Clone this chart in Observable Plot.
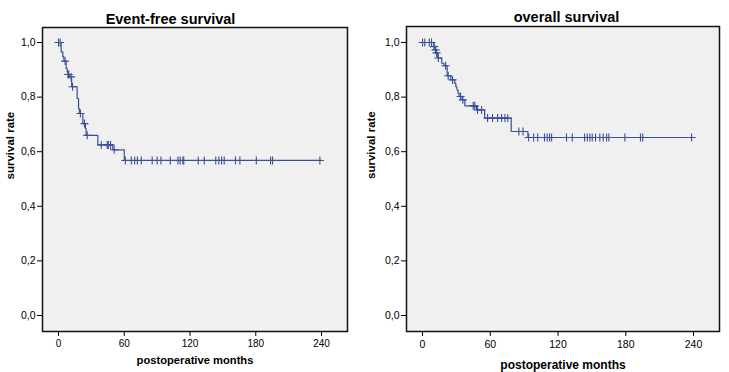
<!DOCTYPE html>
<html><head><meta charset="utf-8">
<script src="https://cdn.jsdelivr.net/npm/d3@7"></script>
<script src="https://cdn.jsdelivr.net/npm/@observablehq/plot@0.6"></script>
<style>
body{margin:0;background:#fff}
#wrap{display:flex;width:729px;height:372px}
#wrap svg{display:block}
</style>
</head><body><div id="wrap"></div>
<script>
const xTicks = [0, 60, 120, 180, 240];
const yTicks = [0, 0.2, 0.4, 0.6, 0.8, 1.0];

// Event-free survival (Kaplan-Meier steps)
const efsTimes = [0, 2.4, 3.9, 4.9, 7, 7.9, 8.5, 10, 12, 17, 18.3, 19, 22.2, 24.6, 25.2, 35.9, 49.5, 60, 240];
const efsSurv  = [1, 0.966, 0.948, 0.932, 0.905, 0.893, 0.883, 0.874, 0.838, 0.795, 0.758, 0.74, 0.703, 0.685, 0.66, 0.625, 0.607, 0.568, 0.568];
const efsCensored = [0, 1.5, 6, 8.8, 9.3, 11.5, 12.8, 20, 23.7, 26.2, 39, 44.5, 45.5, 47.5, 50.8, 61, 66.5, 69.5, 72, 75.5, 85.5, 90, 93.5, 102, 109, 111, 113.5, 114.3, 127.5, 133, 143.5, 146.3, 148.8, 151.2, 161.5, 165.5, 180.5, 193.5, 195.3, 238.5];

// Overall survival
const osTimes = [0, 10, 11, 12, 13.5, 17, 19, 21.8, 25, 28.6, 29.5, 30.5, 31.5, 32.4, 35, 37.5, 47.8, 55, 78.5, 93.3, 240];
const osSurv  = [1, 0.985, 0.973, 0.962, 0.943, 0.924, 0.915, 0.878, 0.863, 0.85, 0.838, 0.826, 0.814, 0.802, 0.79, 0.768, 0.753, 0.723, 0.674, 0.652, 0.652];
const osCensored = [0, 2, 6, 8, 10.2, 11.5, 12.4, 14, 20.4, 22.7, 26.6, 33.7, 35.7, 44.9, 46.3, 48.7, 52.3, 57.6, 62, 66.5, 70, 73, 75.5, 85.3, 89, 94, 98.4, 102, 108, 110.4, 112.5, 114.3, 127.5, 132.6, 143.5, 145.9, 148.2, 150.3, 153.2, 157, 160, 163, 165, 179.2, 193, 195, 238.3];

const BLUE = "#3b4f96";
const FONT = "'Liberation Sans', Arial, sans-serif";
const fmt = d => d3.format(".1f")(d).replace(".", ",");

function panel(o) {
  const curve = o.times.map((t, i) => ({t, s: o.surv[i]}));
  const levelAt = t => { let s = o.surv[0]; o.times.forEach((tt, i) => { if (tt <= t) s = o.surv[i]; }); return s; };
  const cens = o.censored.map(t => ({t, s: levelAt(t)}));
  return Plot.plot({
    width: o.width, height: 372,
    marginLeft: o.ml, marginRight: o.mr, marginTop: o.mt, marginBottom: o.mb,
    x: {domain: o.xDomain},
    y: {domain: o.yDomain},
    style: {fontFamily: FONT, fontSize: "10px", color: "#000", background: "#fff", overflow: "visible"},
    marks: [
      Plot.frame({fill: "#f0f0f0", stroke: null}),
      Plot.line(curve, {x: "t", y: "s", curve: "step-after", stroke: BLUE, strokeWidth: 1.2}),
      Plot.dot(cens, {x: "t", y: "s", symbol: "plus", r: 2.7, stroke: BLUE, strokeWidth: 1.1}),
      Plot.frame({stroke: "#111", strokeWidth: 1.5}),
      Plot.axisY({ticks: yTicks, tickFormat: fmt, tickSize: 5, tickPadding: 2, label: null, fontSize: 10.5, stroke: "#000"}),
      Plot.axisX({ticks: xTicks, tickFormat: d => String(d), tickSize: 5, tickPadding: o.xPad, label: null, fontSize: o.xFont, stroke: "#000"}),
      Plot.text([o.title], {text: d => d, frameAnchor: "top", lineAnchor: "middle", dx: o.titleDx, dy: o.titleDy, fontWeight: "bold", fontSize: 14.5}),
      Plot.text(["survival rate"], {text: d => d, frameAnchor: "left", lineAnchor: "middle", rotate: -90, dx: o.yLabDx, fontWeight: "bold", fontSize: 11.5}),
      Plot.text(["postoperative months"], {text: d => d, frameAnchor: "bottom", lineAnchor: "middle", dy: o.xLabDy, fontWeight: "bold", fontSize: o.xLabFont})
    ]
  });
}

const wrap = document.getElementById("wrap");
wrap.appendChild(panel({
  times: efsTimes, surv: efsSurv, censored: efsCensored, title: "Event-free survival",
  width: 360, ml: 42, mr: 13, mt: 27, mb: 41,
  xDomain: [-14.6, 263.7], yDomain: [-0.0586, 1.055],
  titleDx: -24.5, titleDy: -8, yLabDx: -32, xLabDy: 29, xPad: 3, xFont: 10, xLabFont: 11.2
}));
wrap.appendChild(panel({
  times: osTimes, surv: osSurv, censored: osCensored, title: "overall survival",
  width: 369, ml: 46, mr: 10, mt: 26, mb: 41,
  xDomain: [-14.2, 263], yDomain: [-0.0586, 1.0586],
  titleDx: 3.5, titleDy: -9, yLabDx: -35, xLabDy: 34, xPad: 4, xFont: 10.5, xLabFont: 12
}));
</script>
</body></html>
